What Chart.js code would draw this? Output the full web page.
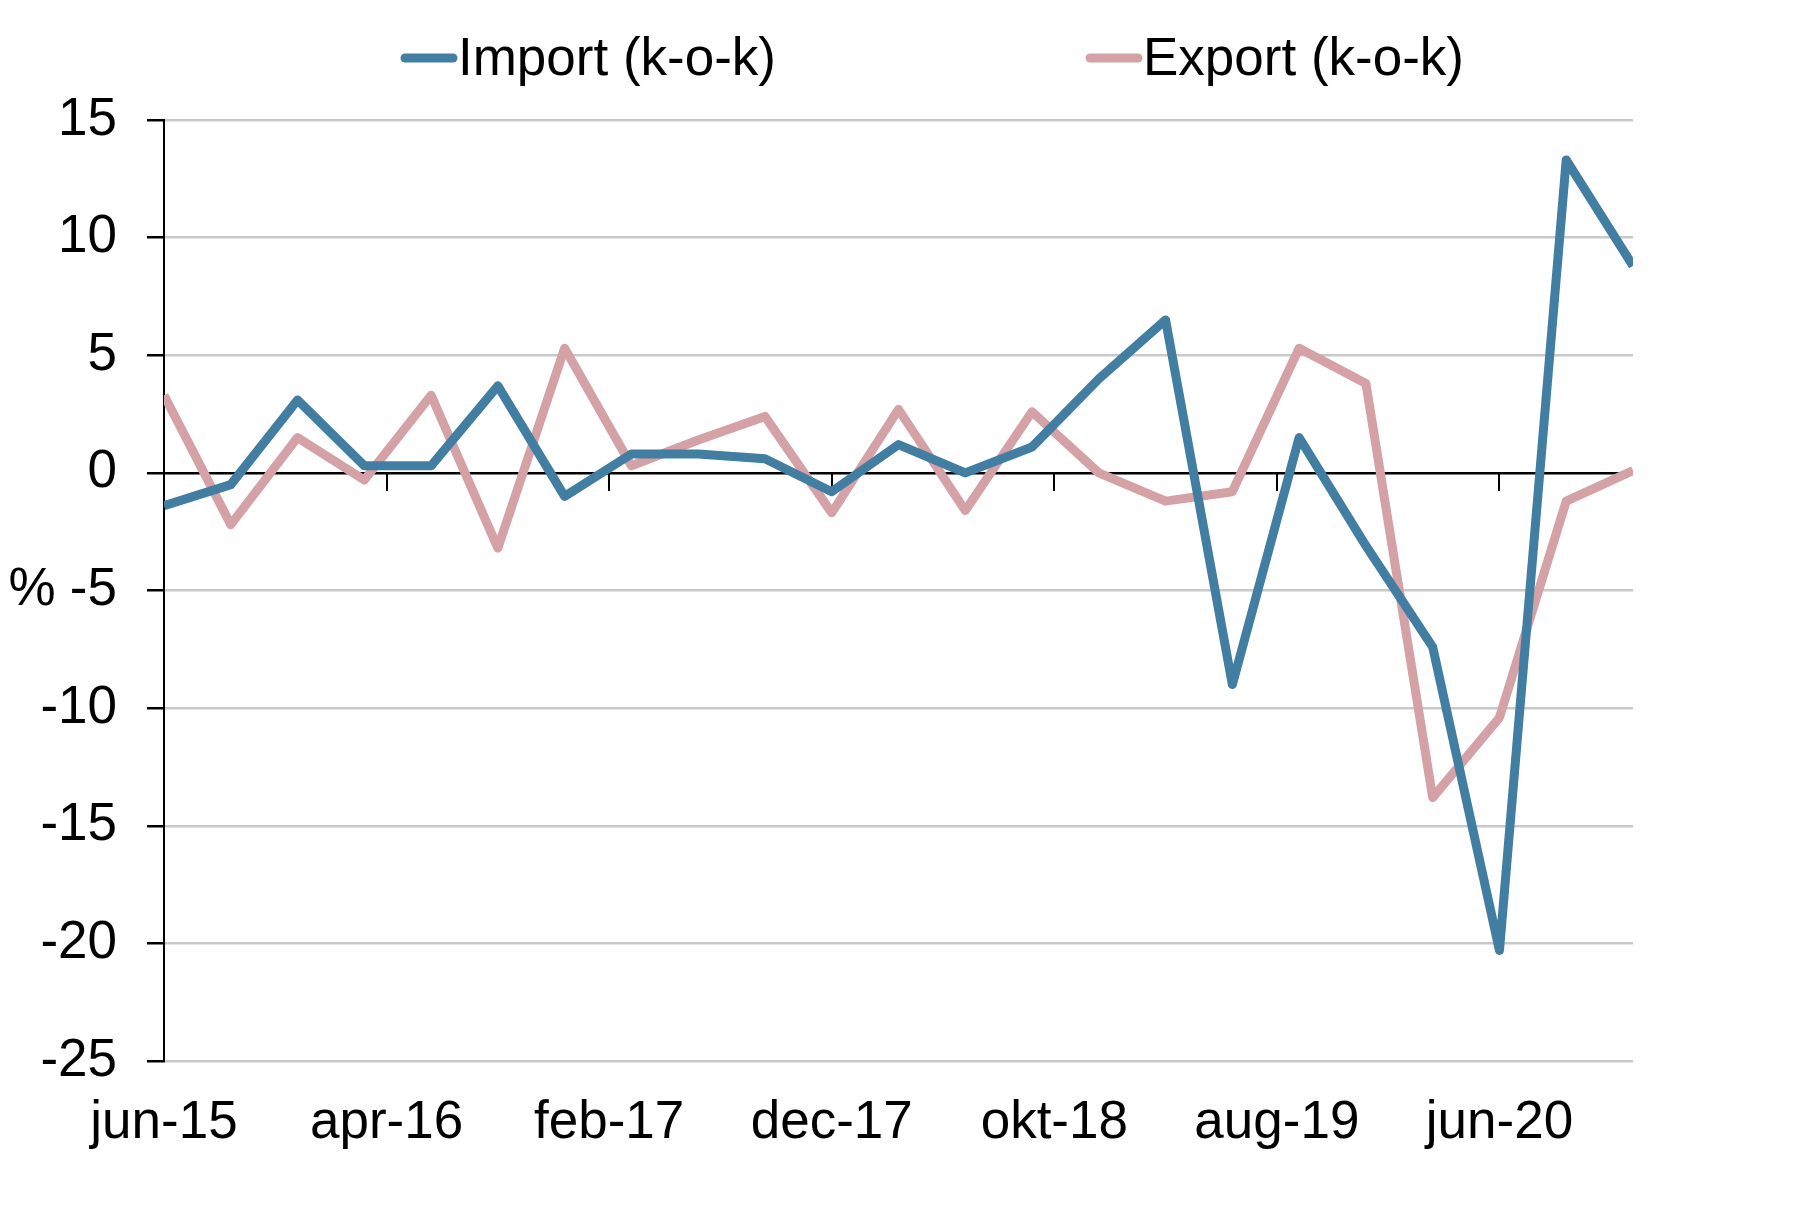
<!DOCTYPE html>
<html>
<head>
<meta charset="utf-8">
<script src="https://cdn.jsdelivr.net/npm/chart.js@4.4.1/dist/chart.umd.min.js"></script>
<style>
  html, body { margin: 0; padding: 0; background: #fff; }
  #wrap { width: 1806px; height: 1209px; }
</style>
</head>
<body>
<div id="wrap"><canvas id="chart"></canvas></div>
<script>
// quarterly observations, jun-15 .. dec-20
const quarters = ['jun-15','sep-15','dec-15','mar-16','jun-16','sep-16','dec-16','mar-17','jun-17','sep-17','dec-17',
                  'mar-18','jun-18','sep-18','dec-18','mar-19','jun-19','sep-19','dec-19','mar-20','jun-20','sep-20','dec-20'];
const importVals = [-1.4, -0.5, 3.1, 0.3, 0.3, 3.7, -1.0, 0.8, 0.8, 0.6, -0.8,
                    1.2, 0.0, 1.1, 4.0, 6.5, -9.0, 1.5, -3.1, -7.4, -20.3, 13.3, 8.8];
const exportVals = [3.3, -2.2, 1.5, -0.3, 3.3, -3.2, 5.3, 0.3, 1.4, 2.4, -1.7,
                    2.7, -1.6, 2.6, 0.0, -1.2, -0.8, 5.3, 3.8, -13.8, -10.4, -1.2, 0.1];
// date axis ticks every 10 months starting jun-15
const xTickLabels = ['jun-15','apr-16','feb-17','dec-17','okt-18','aug-19','jun-20'];
const seriesNames = ['Import (k-o-k)', 'Export (k-o-k)'];

const FONT = '"Liberation Sans", Arial, sans-serif';
const IMPORT_COLOR = '#417ea2';
const EXPORT_COLOR = '#d4a1a6';

// months since jun-15 for each quarter
const toPoints = vals => vals.map((v, i) => ({ x: i * 3, y: v }));

/* ---------------- extras: zero-line ticks, % label, legend ---------------- */
const extras = {
    id: 'extras',
    beforeDatasetsDraw(chart) {
        const { ctx, scales: { x, y } } = chart;
        const y0 = y.getPixelForValue(0);
        ctx.save();
        ctx.strokeStyle = '#000';
        ctx.lineWidth = 2;
        x.ticks.forEach((t, i) => {
            if (i === 0) return;
            const px = Math.round(x.getPixelForValue(t.value));
            ctx.beginPath();
            ctx.moveTo(px, y0);
            ctx.lineTo(px, y0 + 18);
            ctx.stroke();
        });
        ctx.restore();
    },
    afterDraw(chart) {
        const { ctx, scales: { y } } = chart;
        ctx.save();
        ctx.font = '53px ' + FONT;
        ctx.fillStyle = '#000';
        ctx.textBaseline = 'middle';
        ctx.textAlign = 'center';
        ctx.fillText('%', 32, y.getPixelForValue(-5));

        // legend
        const legendX = [400, 1085];
        const ly = 58;
        ctx.textAlign = 'left';
        chart.data.datasets.forEach((ds, i) => {
            const x0 = legendX[i];
            ctx.strokeStyle = ds.borderColor;
            ctx.lineWidth = 9;
            ctx.lineCap = 'round';
            ctx.beginPath();
            ctx.moveTo(x0 + 5, ly);
            ctx.lineTo(x0 + 53, ly);
            ctx.stroke();
            ctx.fillText(ds.label, x0 + 58, ly + 2);
        });
        ctx.restore();
    }
};

new Chart(document.getElementById('chart'), {
    type: 'line',
    data: {
        datasets: [
            { label: seriesNames[0], data: toPoints(importVals), borderColor: IMPORT_COLOR, borderWidth: 9,
              pointRadius: 0, tension: 0, borderJoinStyle: 'round', clip: 0 },
            { label: seriesNames[1], data: toPoints(exportVals), borderColor: EXPORT_COLOR, borderWidth: 9,
              pointRadius: 0, tension: 0, borderJoinStyle: 'round', clip: 0 }
        ]
    },
    options: {
        responsive: true,
        maintainAspectRatio: false,
        devicePixelRatio: 1,
        animation: false,
        layout: { padding: { top: 120, right: 173, bottom: 0, left: 0 } },
        plugins: { legend: { display: false }, tooltip: { enabled: false } },
        scales: {
            x: {
                type: 'linear',
                min: 0,
                max: (quarters.length - 1) * 3,
                afterFit: s => { s.height = 148; },
                grid: { display: false, drawTicks: false },
                border: { display: false },
                ticks: {
                    stepSize: 10,
                    includeBounds: false,
                    autoSkip: false,
                    maxRotation: 0,
                    padding: 31,
                    color: '#000',
                    font: { family: FONT, size: 53 },
                    callback: v => xTickLabels[v / 10] ?? ''
                }
            },
            y: {
                min: -25,
                max: 15,
                afterFit: s => { s.width = 164; },
                grid: {
                    color: c => c.tick && c.tick.value === 0 ? '#000' : '#c9c9c9',
                    lineWidth: 2.5,
                    tickColor: '#000',
                    tickLength: 17
                },
                border: { display: true, color: '#000', width: 2 },
                ticks: {
                    stepSize: 5,
                    padding: 30,
                    color: '#000',
                    font: { family: FONT, size: 53 }
                }
            }
        }
    },
    plugins: [extras]
});
</script>
</body>
</html>
